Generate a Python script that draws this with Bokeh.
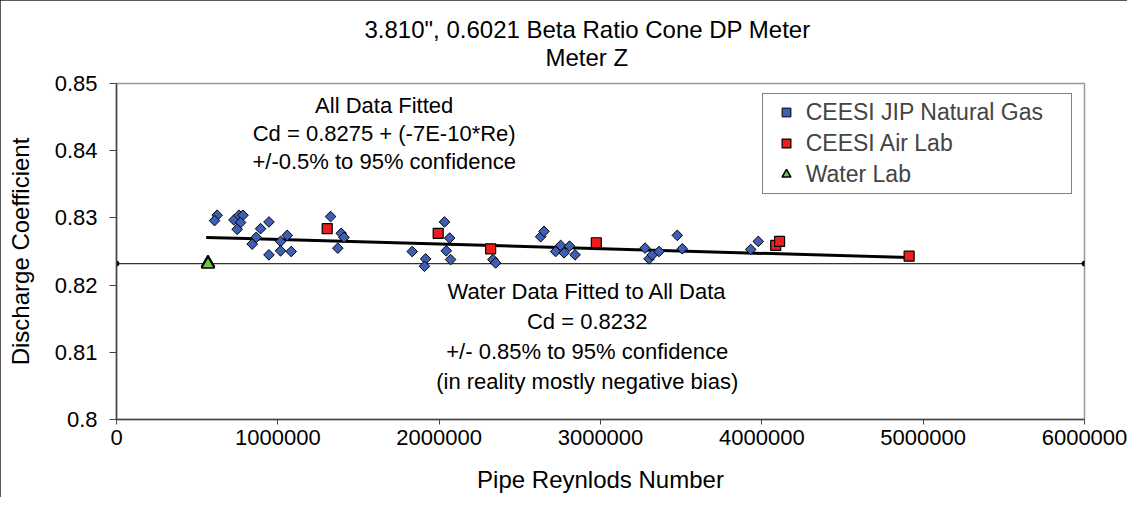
from bokeh.plotting import figure
from bokeh.models import Range1d, FixedTicker, Label, Legend, LegendItem, Title
from bokeh.embed import file_html
from bokeh.resources import INLINE
import math

# ---------------- data ----------------
gas_re = [624000, 608000, 728000, 759000, 784000, 769000, 748000, 893000, 945000,
          866000, 841000, 1017000, 1058000, 1017000, 945000, 1083000,
          1327000, 1393000, 1410000, 1372000,
          1833000, 1916000, 1909000, 2033000, 2065000, 2044000, 2071000,
          2333000, 2350000, 2629000, 2650000, 2722000, 2753000, 2774000,
          2808000, 2842000, 3276000, 3301000, 3321000, 3363000, 3476000,
          3507000, 3931000, 3978000]
gas_cd = [0.8304, 0.8296, 0.8297, 0.8304, 0.8304, 0.8293, 0.8283, 0.8284, 0.8294,
          0.8271, 0.8261, 0.8265, 0.8274, 0.8251, 0.8245, 0.8250,
          0.8302, 0.8277, 0.8271, 0.8255,
          0.8250, 0.8239, 0.8228, 0.8294, 0.8270, 0.8251, 0.8238,
          0.8238, 0.8233, 0.8272, 0.8280, 0.8250, 0.8259, 0.8248,
          0.8258, 0.8245, 0.8255, 0.8239, 0.8245, 0.8250, 0.8274,
          0.8254, 0.8253, 0.8265]

air_re = [1306000, 1994000, 2319000, 2974000, 4086000, 4110000, 4913000]
air_cd = [0.8284, 0.8277, 0.8254, 0.8263, 0.8259, 0.8265, 0.8243]

water_re = [567000, 567000]
water_cd = [0.8233, 0.8231]

fit_re = [556000, 4913000]
fit_cd = [0.8271, 0.8241]

water_fit_re = [0, 6000000]
water_fit_cd = [0.8232, 0.8232]

x_ticks = [0, 1000000, 2000000, 3000000, 4000000, 5000000, 6000000]
x_tick_labels = ["0", "1000000", "2000000", "3000000", "4000000", "5000000", "6000000"]
y_ticks = [0.80, 0.81, 0.82, 0.83, 0.84, 0.85]
y_tick_labels = ["0.8", "0.81", "0.82", "0.83", "0.84", "0.85"]

series_names = ["CEESI JIP Natural Gas", "CEESI Air Lab", "Water Lab"]
title_lines = ['3.810", 0.6021 Beta Ratio Cone DP Meter', "Meter Z"]
note_all = ["All Data Fitted", "Cd = 0.8275 + (-7E-10*Re)", "+/-0.5% to 95% confidence"]
note_water = ["Water Data Fitted to All Data", "Cd = 0.8232",
              "+/- 0.85% to 95% confidence", "(in reality mostly negative bias)"]

FONT = "Liberation Sans"

# ---------------- figure ----------------
p = figure(frame_width=968, frame_height=336,
           min_border_left=116, min_border_right=43, min_border_top=83, min_border_bottom=78,
           x_range=Range1d(0, 6000000), y_range=Range1d(0.8, 0.85),
           output_backend="svg", toolbar_location=None,
           background_fill_color="white", border_fill_color="white")
p.styles = {"outline": "2px solid #222222", "outline-offset": "-2px"}
p.grid.visible = False
p.outline_line_color = "#999999"
p.outline_line_width = 1.5

# titles (first added sits nearest the frame)
p.add_layout(Title(text=title_lines[1], align="left", offset=429, standoff=26,
                   text_font=FONT, text_font_size="24px", text_font_style="normal",
                   text_color="black"), "above")
p.add_layout(Title(text=title_lines[0], align="left", offset=248, standoff=-28,
                   text_font=FONT, text_font_size="24px", text_font_style="normal",
                   text_color="black"), "above")

# axes
p.xaxis.ticker = FixedTicker(ticks=x_ticks)
p.xaxis.major_label_overrides = dict(zip(x_ticks, x_tick_labels))
p.yaxis.ticker = FixedTicker(ticks=y_ticks)
p.yaxis.major_label_overrides = dict(zip(y_ticks, y_tick_labels))
for ax in (p.xaxis[0], p.yaxis[0]):
    ax.axis_line_color = "#444444"
    ax.axis_line_width = 1.5
    ax.major_tick_line_color = "#444444"
    ax.major_tick_in = 0
    ax.minor_tick_line_color = None
    ax.major_label_text_font = FONT
    ax.major_label_text_font_size = "22px"
    ax.major_label_text_color = "black"
    ax.axis_label_text_font = FONT
    ax.axis_label_text_font_size = "24px"
    ax.axis_label_text_font_style = "normal"
    ax.axis_label_text_color = "black"
p.xaxis.major_tick_out = 5
p.yaxis.major_tick_out = 7
p.xaxis.major_label_standoff = 5
p.yaxis.major_label_standoff = 12
p.xaxis.axis_label = "Pipe Reynlods Number"
p.yaxis.axis_label = "Discharge Coefficient"
p.xaxis.axis_label_standoff = 18
p.yaxis.axis_label_standoff = 18

# lines
p.line(water_fit_re, water_fit_cd, line_color="#333333", line_width=1.2)
p.scatter(water_fit_re, water_fit_cd, marker="circle", size=5, color="black")
p.line(fit_re, fit_cd, line_color="black", line_width=3)

# points
r_gas = p.scatter(gas_re, gas_cd, marker="square", angle=math.pi / 4, size=7.5,
                  fill_color="#3F5FB5", line_color="black", line_width=1)
r_air = p.scatter(air_re, air_cd, marker="square", size=10,
                  fill_color="#EE1C1C", line_color="black", line_width=1.2)
r_water = p.scatter(water_re, water_cd, marker="triangle", size=13,
                    fill_color="#66CC44", line_color="black", line_width=1.6)

# legend
legend = Legend(items=[LegendItem(label=series_names[0], renderers=[r_gas]),
                       LegendItem(label=series_names[1], renderers=[r_air]),
                       LegendItem(label=series_names[2], renderers=[r_water])],
                location=(645.7, 225.3), padding=3, spacing=0, margin=0,
                label_height=31, label_width=262, glyph_height=22, glyph_width=40,
                label_standoff=0,
                label_text_font=FONT, label_text_font_size="23px",
                border_line_color="black", border_line_width=1,
                background_fill_color="white", background_fill_alpha=1)
p.add_layout(legend)

# texts inside the plot area
def add_text(txt, x, y):
    p.add_layout(Label(x=x, y=y, x_units="screen", y_units="screen", text=txt,
                       text_align="center", text_baseline="middle",
                       text_font=FONT, text_font_size="22px", text_color="black"))

for i, t in enumerate(note_all):
    add_text(t, 267.7, 314 - 28 * i)
for i, t in enumerate(note_water):
    add_text(t, 470.7, 128 - 30 * i)

open("out.html", "w").write(file_html(p, INLINE))
